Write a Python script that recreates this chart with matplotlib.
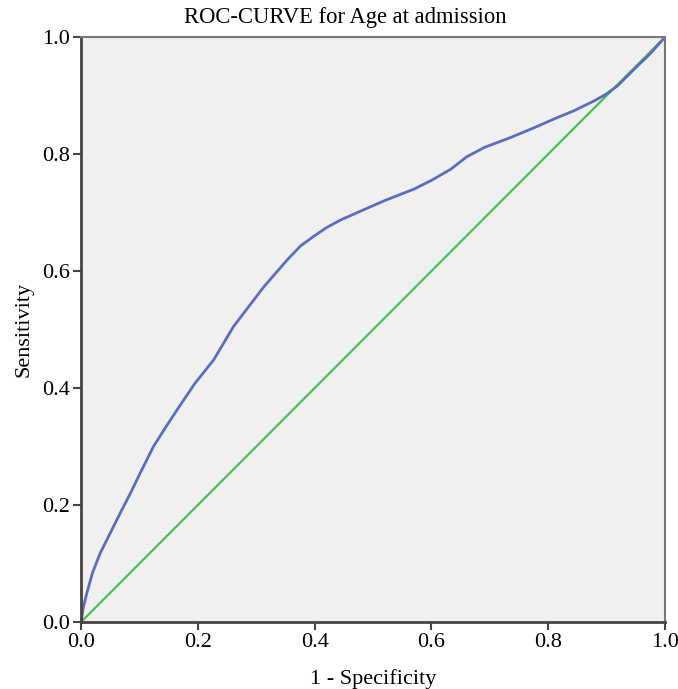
import matplotlib.pyplot as plt
import numpy as np

# ROC curve points (1 - specificity, sensitivity)
fpr = [0.0, 0.004, 0.0098, 0.020, 0.0325, 0.050, 0.067, 0.085, 0.101, 0.124, 0.145,
       0.164, 0.195, 0.227, 0.261, 0.290, 0.313, 0.353, 0.376, 0.398, 0.420, 0.444,
       0.480, 0.519, 0.570, 0.600, 0.633, 0.660, 0.690, 0.735, 0.776, 0.810, 0.844,
       0.879, 0.900, 0.919, 0.947, 0.975, 1.0]
tpr = [0.0, 0.025, 0.049, 0.085, 0.117, 0.152, 0.186, 0.221, 0.254, 0.300, 0.333,
       0.362, 0.408, 0.448, 0.505, 0.543, 0.573, 0.619, 0.643, 0.659, 0.674, 0.687,
       0.703, 0.720, 0.740, 0.755, 0.774, 0.795, 0.811, 0.828, 0.845, 0.860, 0.874,
       0.891, 0.903, 0.917, 0.945, 0.972, 1.0]
ref_line = [0.0, 1.0]
ticks = [0.0, 0.2, 0.4, 0.6, 0.8, 1.0]

plt.rcParams['font.family'] = ['Liberation Serif', 'DejaVu Serif']

fig = plt.figure(figsize=(6.78, 6.89), dpi=100)
ax = fig.add_axes([0.1195, 0.0972, 0.8615, 0.8491])
ax.set_facecolor('#f0f0f0')

ax.plot(ref_line, ref_line, color='#4cbf5a', lw=1.6)
ax.plot(fpr, tpr, color='#5b6dbd', lw=2.0, solid_joinstyle='round')

ax.set_xlim(0, 1)
ax.set_ylim(0, 1)
ax.set_xticks(ticks, labels=[f'{t:.1f}' for t in ticks])
ax.set_yticks(ticks, labels=[f'{t:.1f}' for t in ticks])
ax.tick_params(direction='out', length=6, width=1.5, labelsize=16, color='#444444', pad=2)

for side in ['left', 'bottom']:
    ax.spines[side].set_color('#444444')
    ax.spines[side].set_linewidth(2)
for side in ['top', 'right']:
    ax.spines[side].set_color('#777777')
    ax.spines[side].set_linewidth(1.5)

fig.text(0.509, 0.974, 'ROC-CURVE for Age at admission', fontsize=16.3, ha='center', va='center')
ax.set_xlabel('1 - Specificity', fontsize=16, labelpad=12)
ax.set_ylabel('Sensitivity', fontsize=16, labelpad=6)

plt.savefig('out.png', dpi=100)
